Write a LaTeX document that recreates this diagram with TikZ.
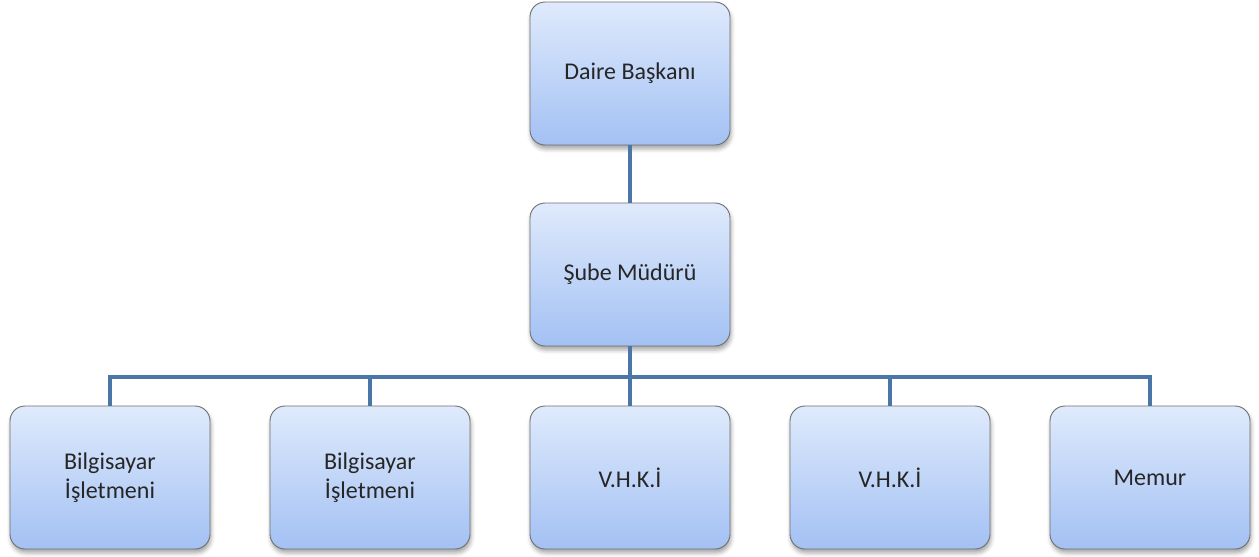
\documentclass[tikz,border=0pt]{standalone}
\usepackage{fontspec}
\setmainfont{Carlito}
\usetikzlibrary{shadows.blur}
\definecolor{linkblue}{HTML}{4A76A8}
\definecolor{boxtop}{HTML}{DFEAFC}
\definecolor{boxbot}{HTML}{A3C1F3}
\definecolor{boxedge}{HTML}{6E6E6E}
\tikzset{
  orgbox/.style={draw=boxedge, line width=0.9pt, rounded corners=15pt,
    top color=boxtop, bottom color=boxbot,
    minimum width=200pt, minimum height=143pt, inner sep=2pt,
    align=center, font=\fontsize{24}{29}\selectfont, text=black!85,
    blur shadow={shadow xshift=1pt, shadow yshift=-4pt, shadow blur radius=4pt, shadow opacity=35}},
  link/.style={draw=linkblue, line width=4.5pt}
}
\begin{document}
\begin{tikzpicture}[x=1pt,y=-1pt]
\useasboundingbox (0,0) rectangle (1259,557);
\node[orgbox] (db) at (630,73.5) {Daire Başkanı};
\node[orgbox] (sm) at (630,274.5) {Şube Müdürü};
\node[orgbox] (c1) at (110,477.5) {Bilgisayar\\İşletmeni};
\node[orgbox] (c2) at (370,477.5) {Bilgisayar\\İşletmeni};
\node[orgbox] (c3) at (630,477.5) {V.H.K.İ};
\node[orgbox] (c4) at (890,477.5) {V.H.K.İ};
\node[orgbox] (c5) at (1150,477.5) {Memur};
\coordinate (bus) at (630,377);
\draw[link] (db.south) -- (sm.north);
\draw[link] (sm.south) -- (c3.north);
\draw[link] (c1.north) |- (bus) -| (c5.north);
\draw[link] (c2.north) -- (c2.north |- bus);
\draw[link] (c4.north) -- (c4.north |- bus);
\end{tikzpicture}
\end{document}
